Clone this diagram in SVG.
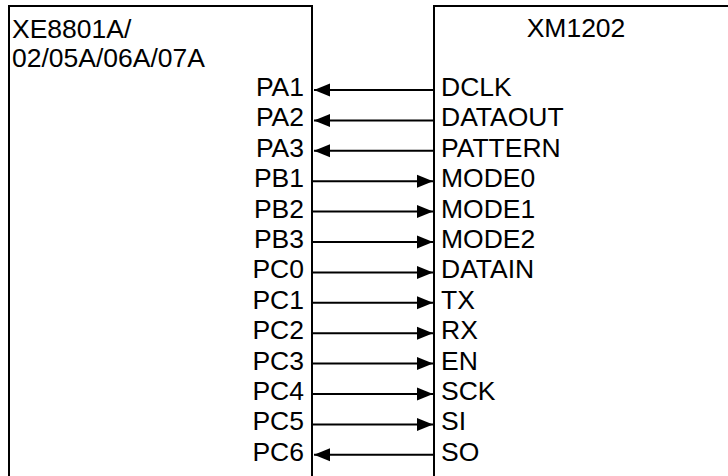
<svg xmlns="http://www.w3.org/2000/svg" width="728" height="476" viewBox="0 0 728 476">
<style>
text{font-family:"Liberation Sans",Arial,sans-serif;font-size:26.5px;fill:#000}
.box{fill:#fff;stroke:#000;stroke-width:2}
.w{stroke:#000;stroke-width:2;fill:none;marker-end:url(#ah)}
.l{text-anchor:end}
</style>
<defs>
<marker id="ah" markerUnits="userSpaceOnUse" markerWidth="18" markerHeight="14" refX="16" refY="7" orient="auto">
<path d="M0,0.5 L16,7 L0,13.5 Z" fill="#000"/>
</marker>
</defs>
<rect width="728" height="476" fill="#fff"/>
<g id="mcu">
<rect class="box" x="9" y="6" width="303" height="480"/>
<text x="12" y="38">XE8801A/</text>
<text x="12" y="67">02/05A/06A/07A</text>
<text class="l" x="304" y="96">PA1</text>
<text class="l" x="304" y="126.4">PA2</text>
<text class="l" x="304" y="156.8">PA3</text>
<text class="l" x="304" y="187.2">PB1</text>
<text class="l" x="304" y="217.6">PB2</text>
<text class="l" x="304" y="248">PB3</text>
<text class="l" x="304" y="278.4">PC0</text>
<text class="l" x="304" y="308.8">PC1</text>
<text class="l" x="304" y="339.2">PC2</text>
<text class="l" x="304" y="369.6">PC3</text>
<text class="l" x="304" y="400">PC4</text>
<text class="l" x="304" y="430.4">PC5</text>
<text class="l" x="304" y="460.8">PC6</text>
</g>
<g id="xm1202">
<rect class="box" x="434" y="6" width="310" height="480"/>
<text x="576" y="37" text-anchor="middle">XM1202</text>
<text x="441" y="96">DCLK</text>
<text x="441" y="126.4">DATAOUT</text>
<text x="441" y="156.8">PATTERN</text>
<text x="441" y="187.2">MODE0</text>
<text x="441" y="217.6">MODE1</text>
<text x="441" y="248">MODE2</text>
<text x="441" y="278.4">DATAIN</text>
<text x="441" y="308.8">TX</text>
<text x="441" y="339.2">RX</text>
<text x="441" y="369.6">EN</text>
<text x="441" y="400">SCK</text>
<text x="441" y="430.4">SI</text>
<text x="441" y="460.8">SO</text>
</g>
<g id="connectors">
<line class="w" x1="433" y1="90" x2="314" y2="90"/>
<line class="w" x1="433" y1="120.4" x2="314" y2="120.4"/>
<line class="w" x1="433" y1="150.8" x2="314" y2="150.8"/>
<line class="w" x1="313" y1="181.2" x2="433" y2="181.2"/>
<line class="w" x1="313" y1="211.6" x2="433" y2="211.6"/>
<line class="w" x1="313" y1="242" x2="433" y2="242"/>
<line class="w" x1="313" y1="272.4" x2="433" y2="272.4"/>
<line class="w" x1="313" y1="302.8" x2="433" y2="302.8"/>
<line class="w" x1="313" y1="333.2" x2="433" y2="333.2"/>
<line class="w" x1="313" y1="363.6" x2="433" y2="363.6"/>
<line class="w" x1="313" y1="394" x2="433" y2="394"/>
<line class="w" x1="313" y1="424.4" x2="433" y2="424.4"/>
<line class="w" x1="433" y1="454.8" x2="314" y2="454.8"/>
</g>
</svg>
